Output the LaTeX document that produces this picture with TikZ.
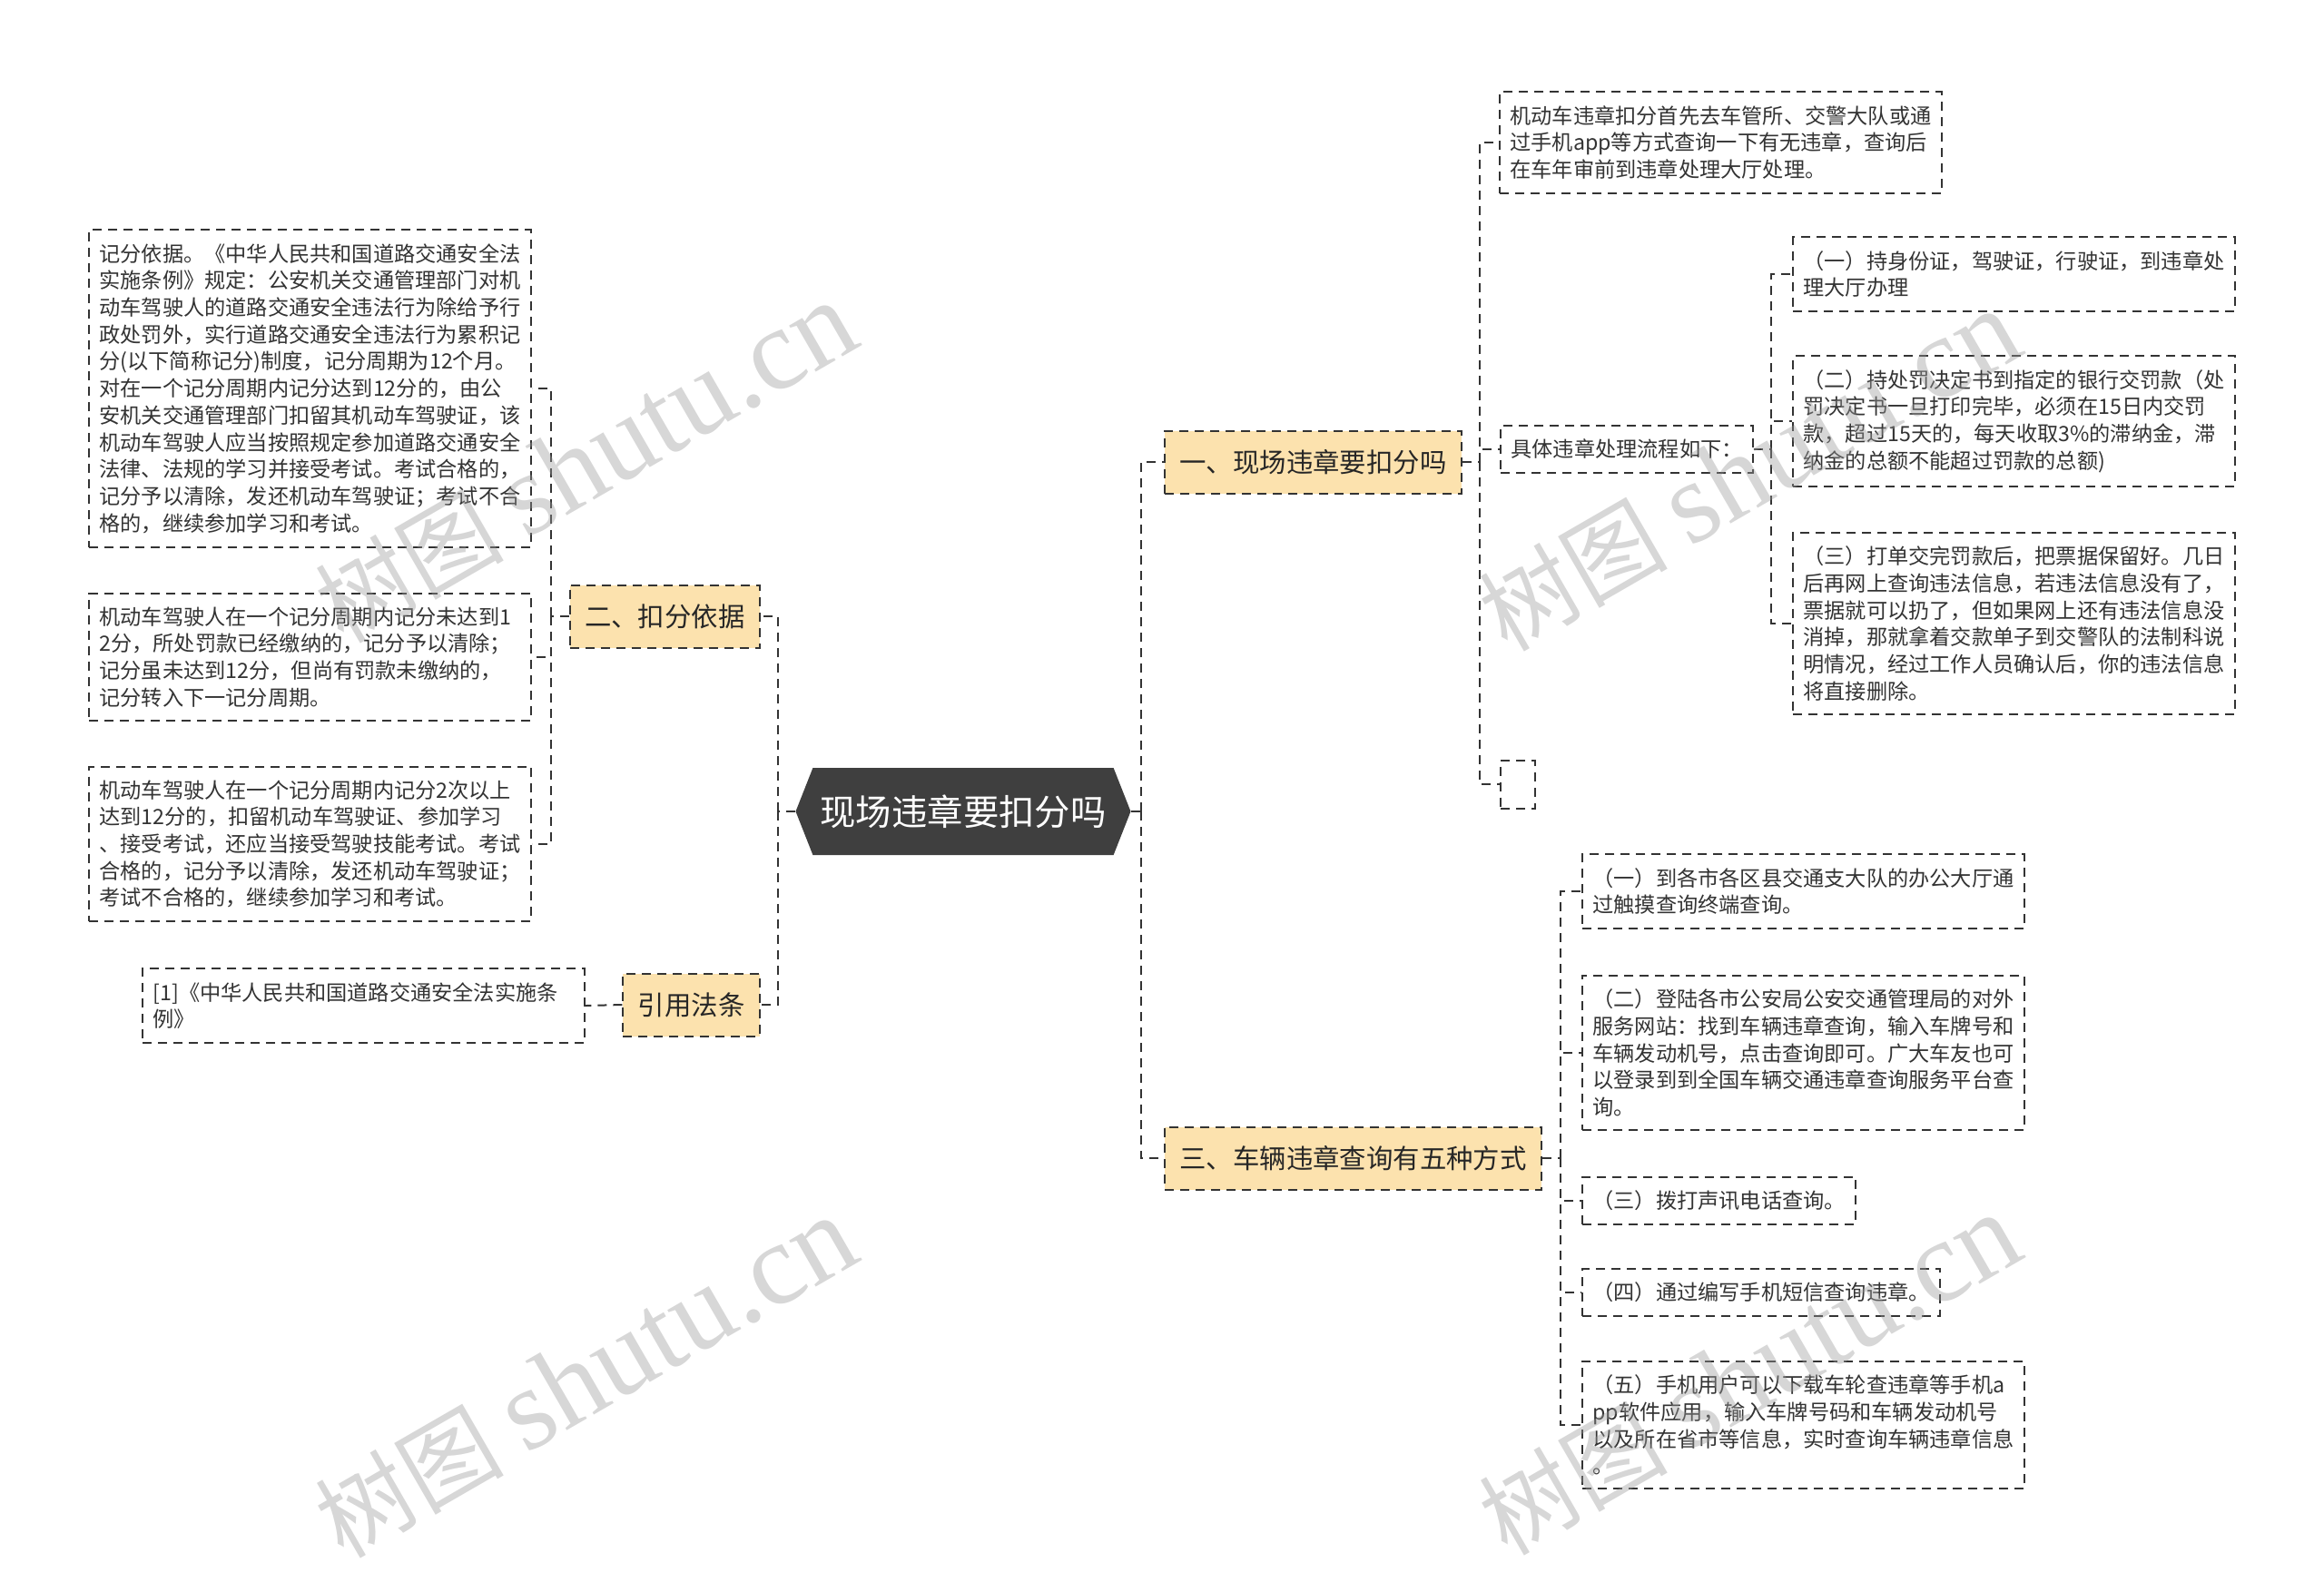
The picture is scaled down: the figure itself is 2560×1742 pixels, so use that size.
\documentclass[tikz,border=0pt]{standalone}
\usepackage{fontspec}
\setmainfont{Noto Sans CJK SC}
\newfontfamily\wmserif{Liberation Serif}
\usetikzlibrary{shapes.symbols, positioning, calc}
\definecolor{hubgray}{HTML}{3F3F3F}
\definecolor{branchfill}{HTML}{FCE2AE}
\definecolor{linegray}{HTML}{333333}
\definecolor{markgray}{HTML}{9A9A9A}

\begin{document}
\begin{tikzpicture}[x=0.5pt, y=-0.5pt,
    link/.style={draw=linegray, line width=1pt, dash pattern=on 5pt off 3.5pt},
    hub/.style={signal, signal to=west and east, signal pointer angle=137,
      fill=hubgray, text=white, minimum width=182pt, minimum height=48pt,
      inner xsep=4pt, font=\fontsize{19.7pt}{24pt}\selectfont},
    branch/.style={draw=linegray, line width=1pt, dash pattern=on 5pt off 3.5pt,
      fill=branchfill, text=black!85, minimum height=34.5pt, inner xsep=8.25pt,
      font=\fontsize{14.7pt}{18pt}\selectfont},
    leaf/.style={draw=linegray, line width=1pt, dash pattern=on 5pt off 3.5pt,
      fill=white, text=black!80, inner xsep=5.75pt, inner ysep=7.5pt,
      font=\fontsize{11.6pt}{14.85pt}\selectfont},
    wideleaf/.style={leaf, text width=232pt, align=left},
    mark text/.style={text=markgray, opacity=0.4, rotate=30,
      font=\fontsize{52pt}{60pt}\selectfont}]
  \useasboundingbox (0,0) rectangle (2560,1742);

  % centre and main branches
  \node[hub] (hub) at (1061,894) {现场违章要扣分吗};
  \node[branch, anchor=west] (b1) at (1282,509) {一、现场违章要扣分吗};
  \node[branch, anchor=east] (b2) at (838,679) {二、扣分依据};
  \node[branch, anchor=east] (b4) at (838,1107) {引用法条};
  \node[branch, anchor=west] (b3) at (1282,1276) {三、车辆违章查询有五种方式};

  % left leaves
  \node[wideleaf, anchor=east] (l1) at (586,428) {记分依据。《中华人民共和国道路交通安全法\\实施条例》规定：公安机关交通管理部门对机\\动车驾驶人的道路交通安全违法行为除给予行\\政处罚外，实行道路交通安全违法行为累积记\\分(以下简称记分)制度，记分周期为12个月。\\对在一个记分周期内记分达到12分的，由公\\安机关交通管理部门扣留其机动车驾驶证，该\\机动车驾驶人应当按照规定参加道路交通安全\\法律、法规的学习并接受考试。考试合格的，\\记分予以清除，发还机动车驾驶证；考试不合\\格的，继续参加学习和考试。};
  \node[wideleaf, anchor=east] (l2) at (586,724) {机动车驾驶人在一个记分周期内记分未达到1\\2分，所处罚款已经缴纳的，记分予以清除；\\记分虽未达到12分，但尚有罚款未缴纳的，\\记分转入下一记分周期。};
  \node[wideleaf, anchor=east] (l3) at (586,930) {机动车驾驶人在一个记分周期内记分2次以上\\达到12分的，扣留机动车驾驶证、参加学习\\、接受考试，还应当接受驾驶技能考试。考试\\合格的，记分予以清除，发还机动车驾驶证；\\考试不合格的，继续参加学习和考试。};
  \node[wideleaf, anchor=east] (ref) at (645,1108) {[1]《中华人民共和国道路交通安全法实施条\\例》};

  % branch one
  \node[wideleaf, anchor=west] (r1) at (1651,157) {机动车违章扣分首先去车管所、交警大队或通\\过手机app等方式查询一下有无违章，查询后\\在车年审前到违章处理大厅处理。};
  \node[leaf, anchor=west] (r2) at (1652,495) {具体违章处理流程如下：};
  \node[leaf, anchor=west, minimum width=19pt, minimum height=26.5pt] (r3) at (1652,864) {};
  \node[wideleaf, anchor=west] (s1) at (1974,302) {（一）持身份证，驾驶证，行驶证，到违章处\\理大厅办理};
  \node[wideleaf, anchor=west] (s2) at (1974,464) {（二）持处罚决定书到指定的银行交罚款（处\\罚决定书一旦打印完毕，必须在15日内交罚\\款，超过15天的，每天收取3\%的滞纳金，滞\\纳金的总额不能超过罚款的总额)};
  \node[wideleaf, anchor=west] (s3) at (1974,687) {（三）打单交完罚款后，把票据保留好。几日\\后再网上查询违法信息，若违法信息没有了，\\票据就可以扔了，但如果网上还有违法信息没\\消掉，那就拿着交款单子到交警队的法制科说\\明情况，经过工作人员确认后，你的违法信息\\将直接删除。};

  % branch three
  \node[wideleaf, anchor=west] (t1) at (1742,982) {（一）到各市各区县交通支大队的办公大厅通\\过触摸查询终端查询。};
  \node[wideleaf, anchor=west] (t2) at (1742,1160) {（二）登陆各市公安局公安交通管理局的对外\\服务网站：找到车辆违章查询，输入车牌号和\\车辆发动机号，点击查询即可。广大车友也可\\以登录到到全国车辆交通违章查询服务平台查\\询。};
  \node[leaf, anchor=west] (t3) at (1742,1323) {（三）拨打声讯电话查询。};
  \node[leaf, anchor=west] (t4) at (1742,1424) {（四）通过编写手机短信查询违章。};
  \node[wideleaf, anchor=west] (t5) at (1742,1570) {（五）手机用户可以下载车轮查违章等手机a\\pp软件应用，输入车牌号码和车辆发动机号\\以及所在省市等信息，实时查询车辆违章信息\\。};

  % connectors
  \coordinate (hr) at (1257,894);
  \coordinate (hl) at (857,894);
  \draw[link] (hub.east) -- (hr);
  \draw[link] (hub.west) -- (hl);
  \foreach \n in {b1,b3} \draw[link] (hr) |- (\n.west);
  \foreach \n in {b2,b4} \draw[link] (hl) |- (\n.east);

  \coordinate (k1) at (1630,509);
  \draw[link] (b1.east) -- (k1);
  \foreach \n in {r1,r2,r3} \draw[link] (k1) |- (\n.west);
  \coordinate (k2) at (1951,495);
  \draw[link] (r2.east) -- (k2);
  \foreach \n in {s1,s2,s3} \draw[link] (k2) |- (\n.west);

  \coordinate (k3) at (607,679);
  \draw[link] (b2.west) -- (k3);
  \foreach \n in {l1,l2,l3} \draw[link] (k3) |- (\n.east);
  \draw[link] (b4.west) -- (ref.east);

  \coordinate (k4) at (1719,1276);
  \draw[link] (b3.east) -- (k4);
  \foreach \n in {t1,t2,t3,t4,t5} \draw[link] (k4) |- (\n.west);

  % watermarks
  \node[mark text] (wm1) at (645,510) {树图 {\wmserif\fontsize{64pt}{70pt}\selectfont shutu.cn}};
  \node[mark text] (wm2) at (645,1518) {树图 {\wmserif\fontsize{64pt}{70pt}\selectfont shutu.cn}};
  \node[mark text] (wm3) at (1927,519) {树图 {\wmserif\fontsize{64pt}{70pt}\selectfont shutu.cn}};
  \node[mark text] (wm4) at (1927,1515) {树图 {\wmserif\fontsize{64pt}{70pt}\selectfont shutu.cn}};
\end{tikzpicture}
\end{document}
